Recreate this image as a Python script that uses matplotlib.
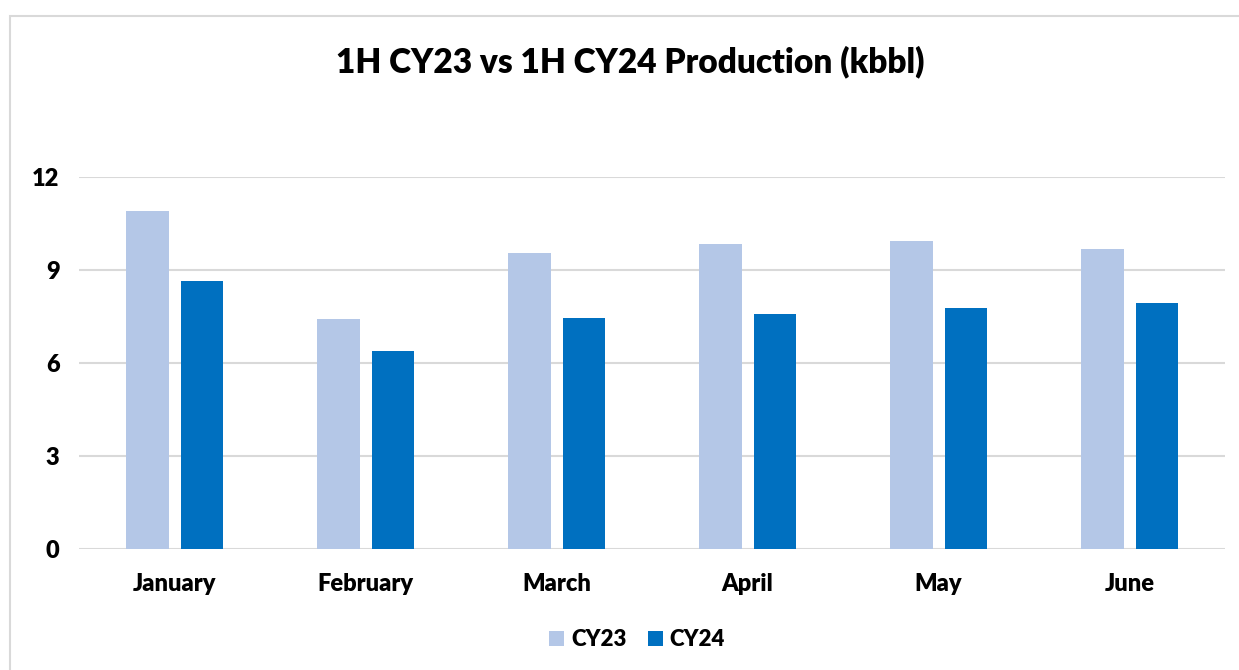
import matplotlib.pyplot as plt
import numpy as np
from matplotlib.patches import Rectangle

months = ['January', 'February', 'March', 'April', 'May', 'June']
cy23 = [10.90, 7.42, 9.55, 9.84, 9.94, 9.68]
cy24 = [8.65, 6.39, 7.45, 7.58, 7.77, 7.94]
y_ticks = [0, 3, 6, 9, 12]

light_blue = '#b4c7e7'
dark_blue = '#0070c0'

plt.rcParams['font.family'] = ['Lato', 'DejaVu Sans']
plt.rcParams['font.weight'] = 'bold'

W, H = 1239, 670
fig = plt.figure(figsize=(W / 100, H / 100), dpi=100)
fig.patch.set_facecolor('white')

# chart area border (cut at right and bottom edges like the reference)
fig.patches.append(Rectangle((10 / W, -0.05), 1.2, (H - 16) / H + 0.05,
                             transform=fig.transFigure, fill=False,
                             edgecolor='#d9d9d9', linewidth=1.5))

ax = fig.add_axes([79 / W, (H - 549) / H, (1225 - 79) / W, (549 - 177) / H])

x = np.arange(len(months))
bw = 0.225
ax.bar(x - 0.142, cy23, width=bw, color=light_blue, label='CY23', zorder=3)
ax.bar(x + 0.144, cy24, width=bw, color=dark_blue, label='CY24', zorder=3)

ax.set_xlim(-0.5, len(months) - 0.5)
ax.set_ylim(0, 12)
ax.set_yticks(y_ticks)
ax.set_xticks(x)
ax.set_xticklabels(months, fontsize=17, fontweight='heavy')
ax.set_yticklabels([str(t) for t in y_ticks], fontsize=17, fontweight='heavy')
ax.tick_params(axis='both', length=0)
ax.tick_params(axis='y', pad=14)
ax.tick_params(axis='x', pad=17)
ax.grid(axis='y', color='#d9d9d9', linewidth=1.5, zorder=0)
for s in ax.spines.values():
    s.set_visible(False)

fig.text(630 / W, 1 - 62 / H, '1H CY23 vs 1H CY24 Production (kbbl)',
         ha='center', va='center', fontsize=24, fontweight='heavy')

leg = fig.legend(loc='center', bbox_to_anchor=(637 / W, 1 - 640 / H), ncol=2,
                 frameon=False, fontsize=16, handlelength=0.68, handleheight=0.68,
                 handletextpad=0.3, columnspacing=0.95)
for t in leg.get_texts():
    t.set_fontweight('heavy')

fig.savefig('out.png', dpi=100, facecolor='white')
